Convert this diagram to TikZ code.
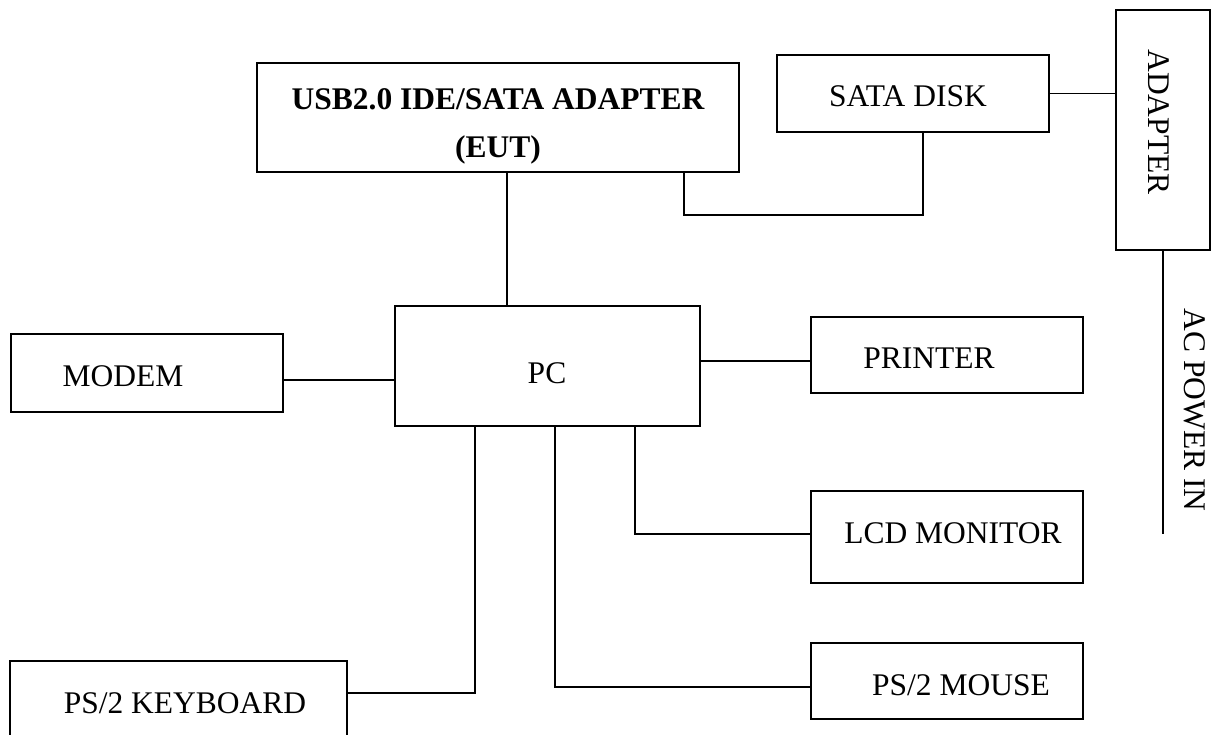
\documentclass[tikz,border=0pt]{standalone}
\usepackage{fontspec}
\setmainfont{Liberation Serif}
\begin{document}
\begin{tikzpicture}[x=1pt,y=-1pt,
  box/.style={draw, line width=1.8pt, inner sep=0pt},
  wire/.style={line width=1.8pt},
  lbl/.style={inner sep=0pt, anchor=base, font=\fontsize{31.5}{38}\selectfont},
  lblb/.style={inner sep=0pt, anchor=base, font=\fontsize{31.5}{38}\selectfont\bfseries},
  vlbl/.style={inner sep=0pt, anchor=center, rotate=-90, font=\fontsize{31.5}{38}\selectfont}]
\useasboundingbox (0,0) rectangle (1212,735);
% boxes
\node[box, minimum width=482pt, minimum height=109pt] (eut) at (498,117.5) {};
\node[box, minimum width=272pt, minimum height=77pt] (sata) at (913,93.5) {};
\node[box, minimum width=94pt, minimum height=240pt] (adapter) at (1163,130) {};
\node[box, minimum width=305pt, minimum height=120pt] (pc) at (547.5,366) {};
\node[box, minimum width=272pt, minimum height=78pt] (modem) at (147,373) {};
\node[box, minimum width=272pt, minimum height=76pt] (printer) at (947,355) {};
\node[box, minimum width=272pt, minimum height=92pt] (lcd) at (947,537) {};
\node[box, minimum width=272pt, minimum height=76pt] (mouse) at (947,681) {};
\node[box, minimum width=337pt, minimum height=100pt] (keyboard) at (178.5,711) {};
% labels
\node[lblb] (t1) at (498,110) {USB2.0 IDE/SATA ADAPTER};
\node[lblb] (t2) at (498,158) {(EUT)};
\node[lbl] (t3) at (908,107) {SATA DISK};
\node[vlbl] (t4) at (1159,122) {ADAPTER};
\node[vlbl] (t5) at (1195,410) {AC POWER IN};
\node[lbl] (t6) at (547,383) {PC};
\node[lbl] (t7) at (123,386) {MODEM};
\node[lbl] (t8) at (929,368) {PRINTER};
\node[lbl] (t9) at (953,543) {LCD MONITOR};
\node[lbl] (t10) at (961,695) {PS/2 MOUSE};
\node[lbl] (t11) at (185,713) {PS/2 KEYBOARD};
% connectors
\draw[wire] ([xshift=9pt]eut.south) -- ([xshift=9pt]eut.south |- pc.north);
\draw[wire] ([xshift=-56pt]eut.south east) -- ++(0,42) -| ([xshift=10pt]sata.south);
\draw[wire] (sata.east) -- (sata.east -| adapter.west);
\draw[wire] (adapter.south) -- ++(0,283) coordinate (acend);
\draw[wire] ([yshift=-7pt]modem.east) -- ([yshift=-7pt]modem.east -| pc.west);
\draw[wire] ([yshift=-6pt]printer.west -| pc.east) -- ([yshift=-6pt]printer.west);
\draw[wire] ([xshift=87.5pt]pc.south) |- ([yshift=3pt]lcd.west);
\draw[wire] ([xshift=7.5pt]pc.south) |- ([yshift=-6pt]mouse.west);
\draw[wire] ([xshift=-72.5pt]pc.south) |- ([yshift=-33pt]keyboard.north east);
\end{tikzpicture}
\end{document}
